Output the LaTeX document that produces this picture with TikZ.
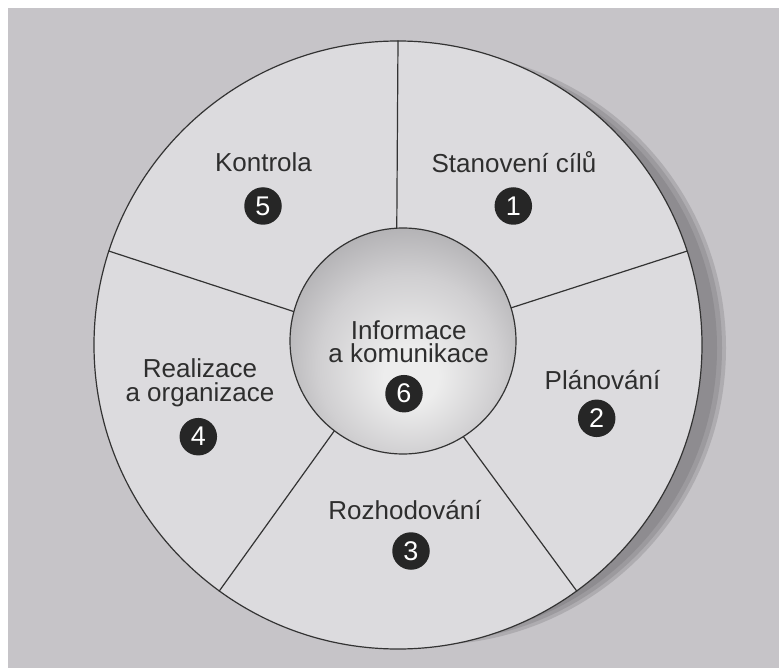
\documentclass[tikz,border=0pt]{standalone}
\usepackage{fontspec}
\setmainfont{Liberation Sans}
\definecolor{bggray}{HTML}{C6C4C8}
\definecolor{ringfill}{HTML}{DCDBDE}
\definecolor{lineclr}{HTML}{333333}
\definecolor{txtclr}{HTML}{2E2E2E}
\definecolor{badgeclr}{HTML}{262626}
\definecolor{shadowA}{HTML}{AEACB0}
\definecolor{shadowB}{HTML}{9C9A9E}
\definecolor{shadowC}{HTML}{8E8C90}
\definecolor{sphA}{HTML}{EDEDED}
\definecolor{sphB}{HTML}{D0CFD1}
\definecolor{sphC}{HTML}{A7A6A9}
\pgfdeclareradialshading{sphereshade}{\pgfpoint{2bp}{-9bp}}{color(0bp)=(sphA); color(6bp)=(sphA); color(20bp)=(sphB); color(33bp)=(sphC); color(50bp)=(sphC)}
\begin{document}
\begin{tikzpicture}[x=1pt,y=-1pt,
  segtext/.style={font=\fontsize{26}{23.5}\selectfont, text=txtclr, anchor=base, inner sep=0pt, align=center},
  badge/.style={circle, fill=badgeclr, minimum size=37.5pt, inner sep=0pt, font=\fontsize{27}{28}\selectfont, text=white},
  divider/.style={draw=lineclr, line width=1.2pt}]
\useasboundingbox (0,0) rectangle (779,668);
\fill[white] (0,0) rectangle (779,668);
\fill[bggray] (8,8) rectangle (779,668);
% shadow of the disc
\fill[shadowA] (429,348) circle[radius=297];
\fill[shadowB] (428,348) circle[radius=294];
\fill[shadowC] (426,348) circle[radius=291];
% outer disc
\node[circle, draw=lineclr, line width=1.2pt, fill=ringfill, minimum size=608pt, inner sep=0pt] (outer) at (398,345) {};
\coordinate (hub) at (396,345);
\draw[divider] (hub) -- (outer.90);
\draw[divider] (hub) -- (outer.18);
\draw[divider] (hub) -- (outer.-54);
\draw[divider] (hub) -- (outer.-126);
\draw[divider] (hub) -- (outer.162);
% inner sphere
\node[circle, draw=lineclr, line width=1.2pt, shade, shading=sphereshade, minimum size=226pt, inner sep=0pt] (inner) at (403,341) {};
% texts
\node[segtext] (t1) at (514,172.7) {Stanovení cílů};
\node[segtext] (t5) at (263.5,172) {Kontrola};
\node[segtext] (t2) at (602.5,389) {Plánování};
\node[segtext] (t3) at (405,519) {Rozhodování};
\node[segtext] (t4) at (200,401) {Realizace\\a organizace};
\node[segtext] (t6) at (408.7,362.8) {Informace\\a komunikace};
% badges
\node[badge] (n1) at (513.3,206) {1};
\node[badge] (n2) at (596.7,418.3) {2};
\node[badge] (n3) at (411,551) {3};
\node[badge] (n4) at (198.3,436.7) {4};
\node[badge] (n5) at (263,206) {5};
\node[badge] (n6) at (404,393.7) {6};
\end{tikzpicture}
\end{document}
